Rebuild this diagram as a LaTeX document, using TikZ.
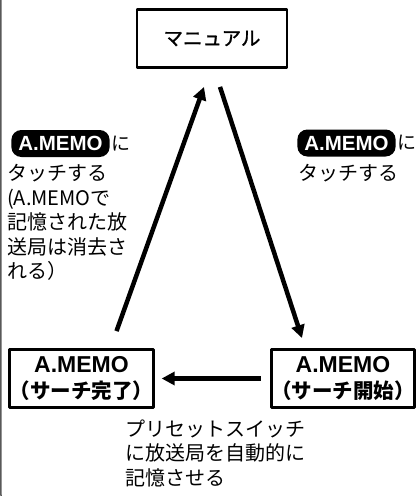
\documentclass[tikz,border=0pt]{standalone}
\usepackage{fontspec}
\setmainfont{Noto Sans CJK JP}
\newfontfamily\latinsans{Liberation Sans}
\newfontfamily\cjkmed{Noto Sans CJK JP}[FakeBold=1.2]
\usetikzlibrary{arrows.meta}
\begin{document}
\begin{tikzpicture}[x=1pt, y=-1pt, line join=round, >={Triangle[length=13pt,width=13pt]},
		box/.style={draw, line width=2.8pt, align=center, inner sep=0pt},
		boxtext/.style={font=\bfseries\fontsize{20.5}{26.5}\selectfont},
		memotag/.style={fill=black, text=white, rounded corners=10pt, minimum height=27pt, inner xsep=7pt, inner ysep=0pt, font=\latinsans\bfseries\fontsize{20.5}{20.5}\selectfont},
		note/.style={align=left, inner sep=0pt, anchor=north west, font=\fontsize{20}{24.5}\selectfont},
		flow/.style={->, line width=4.5pt}]
			\useasboundingbox (0,0) rectangle (416,496);
			\draw[gray!70!black, line width=1.5pt, rounded corners=6pt] (0.8,-5) -- (0.8,500) -- (30,500);
			% boxes
			\node[box, minimum width=150pt, minimum height=58pt, font=\cjkmed\fontsize{19.5}{19.5}\selectfont] (manual) at (212,38.5) {マニュアル};
			\node[box, boxtext, minimum width=133pt, minimum height=58pt] (done) at (81.5,378.5) {{\latinsans\fontsize{23}{26.5}\selectfont A.MEMO}\\（サーチ完了）};
			\node[box, boxtext, minimum width=133pt, minimum height=58pt] (start) at (343,378.5) {{\latinsans\fontsize{23}{26.5}\selectfont A.MEMO}\\（サーチ開始）};
			% labels
			\node[memotag] (tagL) at (60.5,143.5) {A.MEMO};
			\node[anchor=west, inner sep=1pt, font=\fontsize{19}{19}\selectfont] (niL) at (tagL.east) {に};
			\node[note] (noteL) at (7,164.5) {タッチする\\(A.MEMOで\\記憶された放\\送局は消去さ\\れる）};
			\node[memotag] (tagR) at (346.5,143) {A.MEMO};
			\node[anchor=west, inner sep=1pt, font=\fontsize{19}{19}\selectfont] (niR) at (tagR.east) {に};
			\node[note] (noteR) at (298,164.5) {タッチする};
			\node[note] (noteB) at (125,419.5) {プリセットスイッチ\\に放送局を自動的に\\記憶させる};
			% arrows
			\draw[flow] ([xshift=35pt,yshift=17pt]done.north) -- ([xshift=-8pt,yshift=-18pt]manual.south);
			\draw[flow] ([xshift=8pt,yshift=-18pt]manual.south) -- ([xshift=-41pt,yshift=10pt]start.north);
			\draw[flow] ([xshift=-9pt]start.west) -- ([xshift=7pt]done.east);
		\end{tikzpicture}
\end{document}
